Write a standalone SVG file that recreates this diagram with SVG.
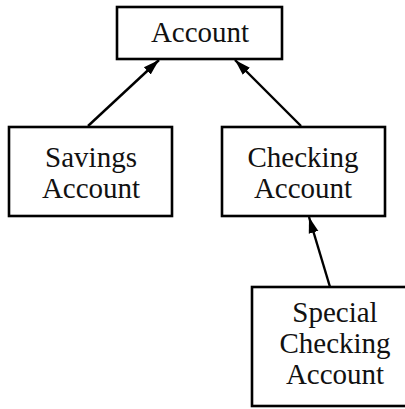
<svg xmlns="http://www.w3.org/2000/svg" width="405" height="409" viewBox="0 0 405 409">
  <style>
    .box { fill: #ffffff; stroke: #000000; stroke-width: 2.6; }
    .lbl { font-family: "Liberation Serif", "Times New Roman", serif; font-size: 29px; fill: #111111; text-anchor: middle; }
    .edge { stroke: #000000; stroke-width: 2.4; fill: none; marker-end: url(#arrow); }
  </style>
  <defs>
    <marker id="arrow" markerUnits="userSpaceOnUse" markerWidth="17" markerHeight="12" refX="16" refY="6" orient="auto">
      <path d="M0,1 L16,6 L0,11 Z" fill="#000000"/>
    </marker>
  </defs>
  <rect x="0" y="0" width="405" height="409" fill="#ffffff"/>
  <g id="connectors">
    <line class="edge" x1="88" y1="126" x2="159" y2="60"/>
    <line class="edge" x1="301" y1="126" x2="235" y2="60"/>
    <line class="edge" x1="330" y1="287" x2="309" y2="217"/>
  </g>
  <g id="account">
    <rect class="box" x="117" y="7" width="165" height="52"/>
    <text class="lbl" x="200" y="42">Account</text>
  </g>
  <g id="savings-account">
    <rect class="box" x="9" y="127" width="163" height="89"/>
    <text class="lbl" x="91" y="167">Savings</text>
    <text class="lbl" x="91" y="198">Account</text>
  </g>
  <g id="checking-account">
    <rect class="box" x="222" y="127" width="163" height="89"/>
    <text class="lbl" x="303" y="167">Checking</text>
    <text class="lbl" x="303" y="198">Account</text>
  </g>
  <g id="special-checking-account">
    <rect class="box" x="252" y="287" width="170" height="119"/>
    <text class="lbl" x="335" y="322">Special</text>
    <text class="lbl" x="335" y="353">Checking</text>
    <text class="lbl" x="335" y="384">Account</text>
  </g>
</svg>
